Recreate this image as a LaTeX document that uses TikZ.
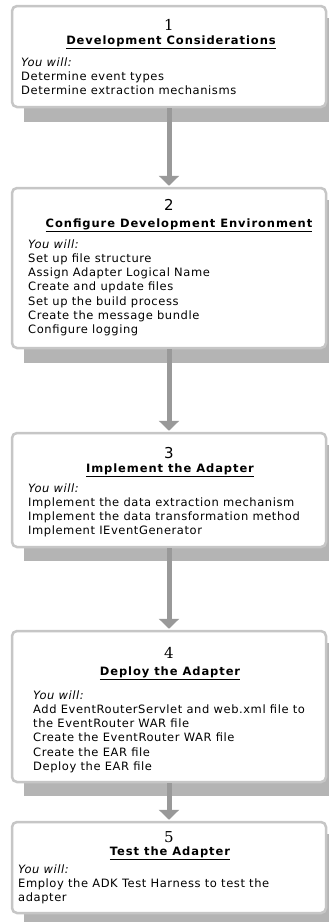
\documentclass[tikz,border=0pt]{standalone}
\usepackage{fontspec}
\setmainfont{DejaVu Sans}
\newfontfamily\numserif{DejaVu Serif}
\newfontfamily\bodyfont[LetterSpace=5]{DejaVu Sans}
\newfontfamily\titlefont[LetterSpace=8]{DejaVu Sans}
\usetikzlibrary{arrows.meta,backgrounds}
\definecolor{boxgray}{HTML}{C6C6C6}
\definecolor{shadowgray}{HTML}{B4B4B4}
\definecolor{arrowgray}{HTML}{999999}

\begin{document}
\begin{tikzpicture}[x=1pt, y=-1pt,
    stepbox/.style={draw=boxgray, line width=2.5pt, rounded corners=5pt, fill=white, minimum width=314pt, inner sep=0pt},
    stepnum/.style={inner sep=0pt, font=\fontsize{15}{15}\selectfont},
    steptitle/.style={inner sep=0pt, font=\titlefont\bfseries\fontsize{11.5}{13}\selectfont},
    stepbody/.style={inner sep=0pt, anchor=north west, align=left, font=\bodyfont\fontsize{11.5}{14.2}\selectfont},
    flow/.style={arrowgray, line width=5pt, -{Triangle[width=20pt,length=10pt]}, shorten >=1pt}]
  \useasboundingbox (0,0) rectangle (330,922);

  % step boxes
  \node[stepbox, minimum height=101pt] (s1) at (169,56.5) {};
  \node[stepbox, minimum height=160pt] (s2) at (169,268) {};
  \node[stepbox, minimum height=114pt] (s3) at (169,490) {};
  \node[stepbox, minimum height=151pt] (s4) at (169,706.5) {};
  \node[stepbox, minimum height=91pt] (s5) at (169,867.5) {};

  % step 1
  \node[stepnum] (n1) at (169,25) {\numserif 1};
  \node[steptitle] (t1) at (171,42) {\underline{Development Considerations}};
  \node[stepbody] (b1) at (21,57.3) {\textit{You will:}\\Determine event types\\Determine extraction mechanisms};

  % step 2
  \node[stepnum] (n2) at (169,205) {2};
  \node[steptitle] (t2) at (179,225) {\underline{Configure Development Environment}};
  \node[stepbody] (b2) at (28,239.3) {\textit{You will:}\\Set up file structure\\Assign Adapter Logical Name\\Create and update files\\Set up the build process\\Create the message bundle\\Configure logging};

  % step 3
  \node[stepnum] (n3) at (169,453) {3};
  \node[steptitle] (t3) at (170,470) {\underline{Implement the Adapter}};
  \node[stepbody] (b3) at (28,483.3) {\textit{You will:}\\Implement the data extraction mechanism\\Implement the data transformation method\\Implement IEventGenerator};

  % step 4
  \node[stepnum] (n4) at (169,653) {\numserif 4};
  \node[steptitle] (t4) at (170,673) {\underline{Deploy the Adapter}};
  \node[stepbody] (b4) at (33,690.3) {\textit{You will:}\\Add EventRouterServlet and web.xml file to\\the EventRouter WAR file\\Create the EventRouter WAR file\\Create the EAR file\\Deploy the EAR file};

  % step 5
  \node[stepnum] (n5) at (169,837) {\numserif 5};
  \node[steptitle] (t5) at (170,853) {\underline{Test the Adapter}};
  \node[stepbody] (b5) at (18,864.3) {\textit{You will:}\\Employ the ADK Test Harness to test the\\adapter};

  % shadows
  \begin{scope}[on background layer]
    \foreach \s/\d in {s1/14,s2/14,s3/13,s4/13,s5/8}
      \fill[shadowgray] ([shift={(13,13)}]\s.north west) rectangle ([shift={(1.5,\d)}]\s.south east);
  \end{scope}

  % arrows
  \draw[flow] (s1) -- (s2);
  \draw[flow] (s2) -- (s3);
  \draw[flow] (s3) -- (s4);
  \draw[flow] (s4) -- (s5);
\end{tikzpicture}
\end{document}
